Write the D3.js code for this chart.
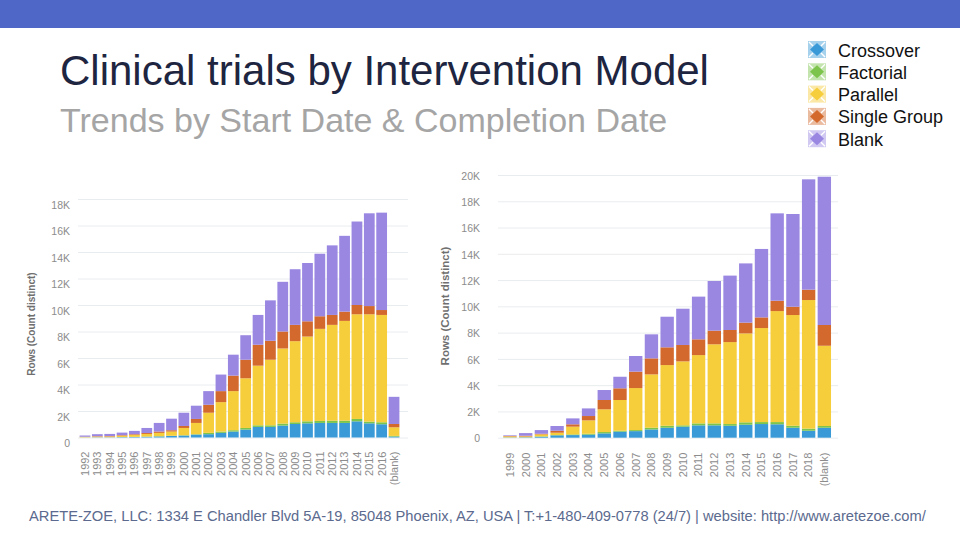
<!DOCTYPE html>
<html>
<head>
<meta charset="utf-8">
<script src="https://cdn.jsdelivr.net/npm/d3@7"></script>
<style>
  body { margin: 0; background: #fff; }
  svg { display: block; font-family: "Liberation Sans", Arial, sans-serif; }
</style>
</head>
<body>
<div id="slide"></div>
<script>
// models in stacking order, bottom to top
var models = ["Crossover", "Factorial", "Parallel", "Single Group", "Blank"];
var modelColors = ["#3a9ad8", "#7cc44c", "#f6cd3a", "#d3692c", "#9a87e2"];

// left chart: by start date (values in trials)
var leftYears = ["1992","1993","1994","1995","1996","1997","1998","1999","2000","2001","2002","2003","2004",
  "2005","2006","2007","2008","2009","2010","2011","2012","2013","2014","2015","2016","(blank)"];
var leftCrossover   = [10,20,20,30,40,60,80,120,150,220,250,350,450,600,800,800,900,1020,1070,1100,1100,1100,1220,1070,1000,70];
var leftFactorial   = [0,0,0,10,10,10,20,10,20,30,100,100,100,120,120,120,150,130,150,150,170,170,180,130,150,50];
var leftParallel    = [30,50,60,100,150,200,250,320,550,850,1520,2220,2950,3750,4500,4950,5670,6120,6400,6950,7230,7530,7900,8100,8100,650];
var leftSingleGroup = [20,30,30,40,50,70,100,100,150,300,600,830,1170,1400,1580,1430,1280,1230,1150,950,750,700,700,620,370,250];
var leftBlank       = [90,150,160,190,250,380,650,870,1000,1000,1030,1250,1580,1850,2250,3050,3750,4200,4400,4720,5250,5720,6300,7000,7350,2050];
var leftTicks = [0,2000,4000,6000,8000,10000,12000,14000,16000,18000];

// right chart: by completion date
var rightYears = ["1999","2000","2001","2002","2003","2004","2005","2006","2007","2008","2009","2010",
  "2011","2012","2013","2014","2015","2016","2017","2018","(blank)"];
var rightCrossover   = [20,30,80,180,200,230,330,460,500,630,760,840,940,940,910,990,1040,1020,760,530,760];
var rightFactorial   = [10,10,20,20,50,70,100,70,80,130,150,100,150,150,130,180,150,170,150,160,130];
var rightParallel    = [70,60,150,180,590,1020,1730,2340,3200,4060,4620,4870,5200,6020,6240,6770,7160,8450,8430,9790,6110];
var rightSingleGroup = [30,50,50,150,180,330,710,890,1250,1220,1350,1250,1200,1040,920,820,810,790,630,790,1580];
var rightBlank       = [50,200,280,360,450,580,760,880,1190,1830,2330,2760,3250,3780,4140,4510,5210,6650,7060,8400,11290];
var rightTicks = [0,2000,4000,6000,8000,10000,12000,14000,16000,18000,20000];

var svg = d3.select("#slide").append("svg")
  .attr("width", 960).attr("height", 540)

// header band
svg.append("rect").attr("x", 0).attr("y", 0).attr("width", 960).attr("height", 28).attr("fill", "#4f67c7")

svg.append("text").attr("x", 60).attr("y", 85)
  .style("font-size", "42px").attr("fill", "#1e2540")
  .text("Clinical trials by Intervention Model")
svg.append("text").attr("x", 60).attr("y", 132)
  .style("font-size", "34px").attr("fill", "#a5a5a5")
  .text("Trends by Start Date & Completion Date")

// legend
var legend = svg.selectAll("g.legend")
  .data(models)
  .enter().append("g")
  .attr("class", "legend")
  .attr("transform", function(d, i) { return "translate(808," + (41 + i * 22.3) + ")" })
legend.append("rect")
  .attr("width", 18).attr("height", 17)
  .attr("fill", function(d, i) { return modelColors[i] }).attr("opacity", 0.45)
legend.append("path")
  .attr("d", "M9,2 L16,8.5 L9,15 L2,8.5 Z")
  .attr("fill", function(d, i) { return modelColors[i] })
legend.append("path")
  .attr("d", "M1,1 L5,5 M17,1 L13,5 M1,16 L5,12 M17,16 L13,12")
  .attr("stroke", "#fff").attr("stroke-width", 1.4)
legend.append("text")
  .attr("x", 30).attr("y", 15.5)
  .style("font-size", "18px").attr("fill", "#111")
  .text(function(d) { return d })

function kFormat(d) { return d === 0 ? "0" : (d / 1000) + "K" }

function drawChart(opt) {
  var rows = opt.years.map(function(y, i) {
    var r = { year: y }
    models.forEach(function(m, k) { r[m] = opt.series[k][i] })
    return r
  })
  var stacked = d3.stack().keys(models)(rows)

  var x = d3.scaleBand().domain(opt.years).range(opt.xRange)
    .paddingInner(opt.pad).paddingOuter(opt.pad / 2)
  var y = d3.scaleLinear().domain([0, opt.yMax]).range(opt.yRange)

  var g = svg.append("g")

  // gridlines
  g.append("g")
    .attr("transform", "translate(" + opt.gridX[0] + ",0)")
    .call(d3.axisLeft(y).tickValues(opt.ticks).tickSize(-(opt.gridX[1] - opt.gridX[0])).tickFormat(""))
    .call(function(a) { a.select(".domain").remove() })
    .selectAll("line").attr("stroke", "#e9ecee").attr("stroke-width", 1)

  // y labels
  g.append("g")
    .attr("transform", "translate(" + opt.labelX + ",0)")
    .call(d3.axisLeft(y).tickValues(opt.ticks).tickSize(0).tickPadding(0).tickFormat(kFormat))
    .call(function(a) { a.select(".domain").remove() })
    .selectAll("text")
    .attr("dy", opt.labelDy)
    .attr("fill", "#8c8c8c").style("font-size", opt.tickFont + "px")

  // bars
  g.selectAll("g.layer")
    .data(stacked)
    .enter().append("g")
    .attr("class", "layer")
    .attr("fill", function(d, i) { return modelColors[i] })
    .selectAll("rect")
    .data(function(d) { return d })
    .enter().append("rect")
    .attr("x", function(d) { return x(d.data.year) })
    .attr("width", x.bandwidth())
    .attr("y", function(d) { return y(d[1]) })
    .attr("height", function(d) { return Math.max(0, y(d[0]) - y(d[1])) })

  // x labels
  g.append("g")
    .attr("transform", "translate(0," + opt.yRange[0] + ")")
    .call(d3.axisBottom(x).tickSize(0))
    .call(function(a) { a.select(".domain").remove() })
    .selectAll("text")
    .attr("transform", "rotate(-90)")
    .attr("x", -opt.xLabelGap).attr("y", 0).attr("dy", "0.35em")
    .style("text-anchor", "end")
    .attr("fill", "#8c8c8c").style("font-size", opt.xFont + "px")

  // axis title
  g.append("text")
    .attr("transform", "translate(" + opt.titleX + "," + opt.titleY + ") rotate(-90)")
    .style("text-anchor", "middle").style("font-weight", "bold")
    .style("font-size", opt.titleFont + "px").attr("fill", "#6f6f6f")
    .text("Rows (Count distinct)")
}

drawChart({
  years: leftYears,
  series: [leftCrossover, leftFactorial, leftParallel, leftSingleGroup, leftBlank],
  ticks: leftTicks, yMax: 18000, yRange: [437.5, 199],
  xRange: [78.8, 400.2], pad: 0.13, gridX: [78, 408],
  labelX: 70, labelDy: "0.9em", tickFont: 10.5,
  xLabelGap: 14, xFont: 11,
  titleX: 35, titleY: 324, titleFont: 10
})

drawChart({
  years: rightYears,
  series: [rightCrossover, rightFactorial, rightParallel, rightSingleGroup, rightBlank],
  ticks: rightTicks, yMax: 20000, yRange: [437.7, 175],
  xRange: [502.1, 832.2], pad: 0.15, gridX: [498, 838],
  labelX: 480, labelDy: "0.4em", tickFont: 10.5,
  xLabelGap: 15, xFont: 11,
  titleX: 449, titleY: 306, titleFont: 11.5
})

// footer
svg.append("text").attr("x", 29).attr("y", 521)
  .style("font-size", "14.7px").attr("fill", "#5b6a8e")
  .text("ARETE-ZOE, LLC: 1334 E Chandler Blvd 5A-19, 85048 Phoenix, AZ, USA | T:+1-480-409-0778 (24/7) | website: http://www.aretezoe.com/")
</script>
</body>
</html>
